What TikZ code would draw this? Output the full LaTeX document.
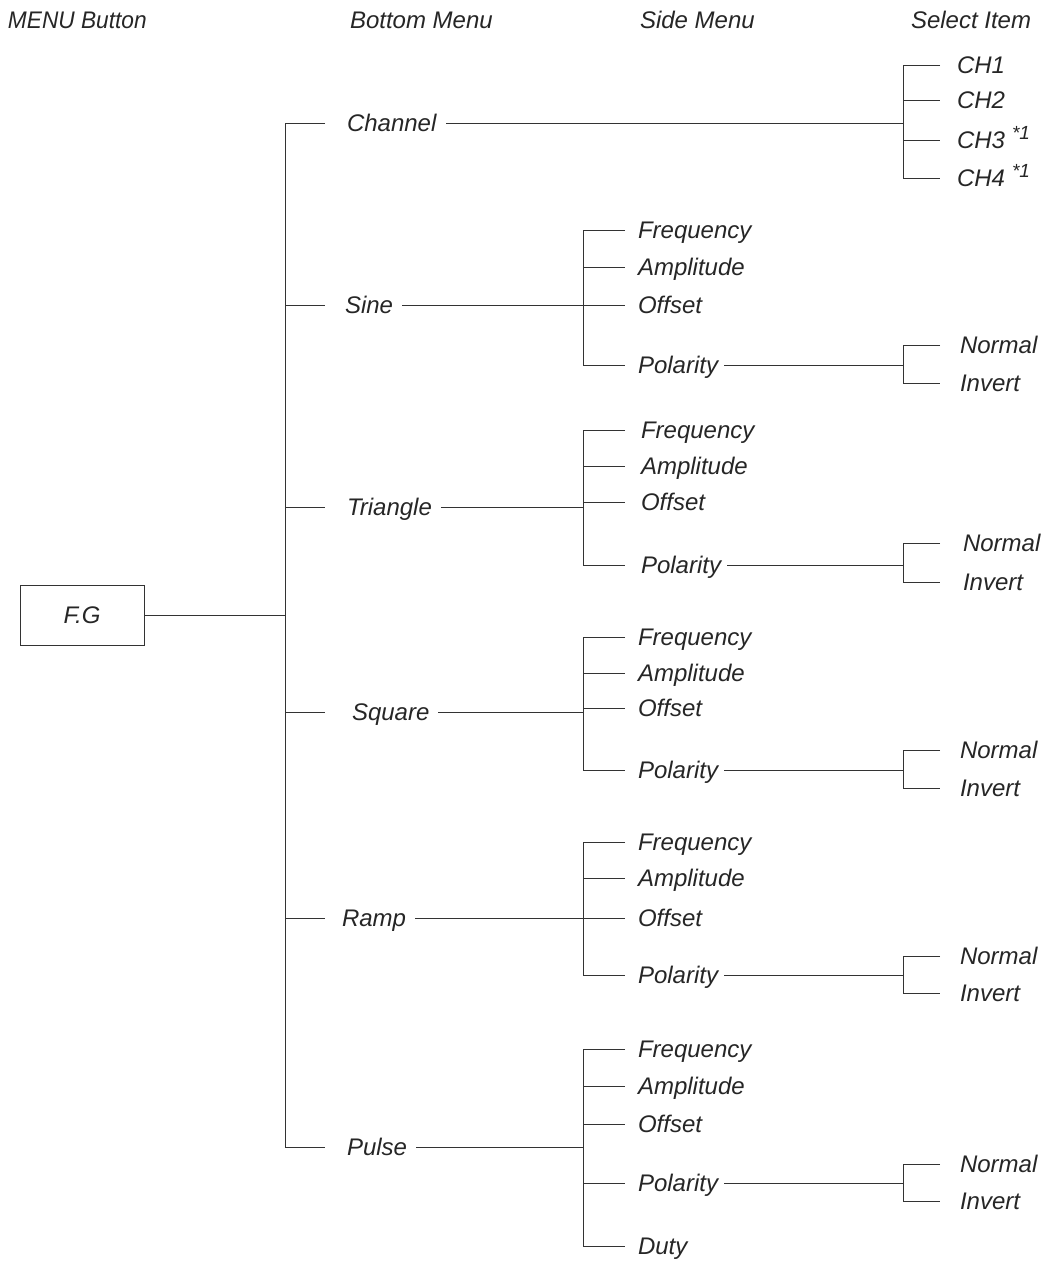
\documentclass[tikz,border=0pt]{standalone}
\usepackage{fontspec}
\setmainfont{Liberation Sans}
\newcommand{\noteone}{\hspace{7pt}\raisebox{9pt}{\fontsize{19}{22}\selectfont *1}}
\begin{document}
\begin{tikzpicture}[x=1pt,y=-1pt,
  every node/.style={font=\fontsize{24}{28}\selectfont\itshape, inner sep=0pt, outer sep=0pt,
    text height=17pt, text depth=0pt, anchor=west, text=black!85},
  ln/.style={line width=0.9pt, draw=black!80},
  box/.style={draw=black!80, line width=0.9pt, anchor=center, minimum width=124pt, minimum height=60pt}]
\useasboundingbox (0,0) rectangle (1045,1261);
% column coordinates
\coordinate (trunk) at (285,0);
\coordinate (bstub) at (325,0);
\coordinate (sidex) at (583,0);
\coordinate (sidestub) at (625,0);
\coordinate (selx) at (903,0);
\coordinate (selstub) at (940,0);
% headers
\node (h1) at (8,20) {\scalebox{0.945}[1]{MENU Button}};
\node (h2) at (350,20) {Bottom Menu};
\node (h3) at (640,20) {Side Menu};
\node (h4) at (911,20) {Select Item};
% root
\node[box] (fg) at (82,615) {F.G};
% bottom menu
\node (ch) at (347,123) {Channel};
\node (si) at (345,305) {Sine};
\node (tr) at (347,507) {Triangle};
\node (sq) at (352,712) {Square};
\node (ra) at (342,918) {Ramp};
\node (pu) at (347,1147) {Pulse};
\draw[ln] (fg.east) -- (fg.east -| trunk);
\draw[ln] (ch.west -| bstub) -- (ch.west -| trunk) -- (pu.west -| trunk) -- (pu.west -| bstub);
\foreach \n in {si,tr,sq,ra}{\draw[ln] (\n.west -| trunk) -- (\n.west -| bstub);}
% channel
\node (c1) at (957,65) {CH1};
\node (c2) at (957,100) {CH2};
\node (c3) at (957,140) {CH3\noteone};
\node (c4) at (957,178) {CH4\noteone};
\draw[ln, shorten <=10pt] (ch.east) -- (ch.east -| selx);
\draw[ln] (c1.west -| selstub) -- (c1.west -| selx) -- (c4.west -| selx) -- (c4.west -| selstub);
\draw[ln] (c2.west -| selx) -- (c2.west -| selstub);
\draw[ln] (c3.west -| selx) -- (c3.west -| selstub);
% sine
\node (si-f) at (638,230) {Frequency};
\node (si-a) at (638,267) {Amplitude};
\node (si-o) at (638,305) {Offset};
\node (si-p) at (638,365) {Polarity};
\node (si-n) at (960,345) {Normal};
\node (si-i) at (960,383) {Invert};
% triangle
\node (tr-f) at (641,430) {Frequency};
\node (tr-a) at (641,466) {Amplitude};
\node (tr-o) at (641,502) {Offset};
\node (tr-p) at (641,565) {Polarity};
\node (tr-n) at (963,543) {Normal};
\node (tr-i) at (963,582) {Invert};
% square
\node (sq-f) at (638,637) {Frequency};
\node (sq-a) at (638,673) {Amplitude};
\node (sq-o) at (638,708) {Offset};
\node (sq-p) at (638,770) {Polarity};
\node (sq-n) at (960,750) {Normal};
\node (sq-i) at (960,788) {Invert};
% ramp
\node (ra-f) at (638,842) {Frequency};
\node (ra-a) at (638,878) {Amplitude};
\node (ra-o) at (638,918) {Offset};
\node (ra-p) at (638,975) {Polarity};
\node (ra-n) at (960,956) {Normal};
\node (ra-i) at (960,993) {Invert};
% pulse
\node (pu-f) at (638,1049) {Frequency};
\node (pu-a) at (638,1086) {Amplitude};
\node (pu-o) at (638,1124) {Offset};
\node (pu-p) at (638,1183) {Polarity};
\node (pu-d) at (638,1246) {Duty};
\node (pu-n) at (960,1164) {Normal};
\node (pu-i) at (960,1201) {Invert};
% side menu connectors
\foreach \n/\last in {si/si-p,tr/tr-p,sq/sq-p,ra/ra-p,pu/pu-d}{
  \draw[ln, shorten <=9pt] (\n.east) -- (\n.east -| sidex);
  \draw[ln] (\n-f.west -| sidestub) -- (\n-f.west -| sidex) -- (\last.west -| sidex) -- (\last.west -| sidestub);
  \draw[ln] (\n-a.west -| sidex) -- (\n-a.west -| sidestub);
  \draw[ln] (\n-o.west -| sidex) -- (\n-o.west -| sidestub);
  \draw[ln, shorten <=6pt] (\n-p.east) -- (\n-p.east -| selx);
  \draw[ln] (\n-n.west -| selstub) -- (\n-n.west -| selx) -- (\n-i.west -| selx) -- (\n-i.west -| selstub);
}
\draw[ln] (pu-p.west -| sidex) -- (pu-p.west -| sidestub);
\end{tikzpicture}
\end{document}
